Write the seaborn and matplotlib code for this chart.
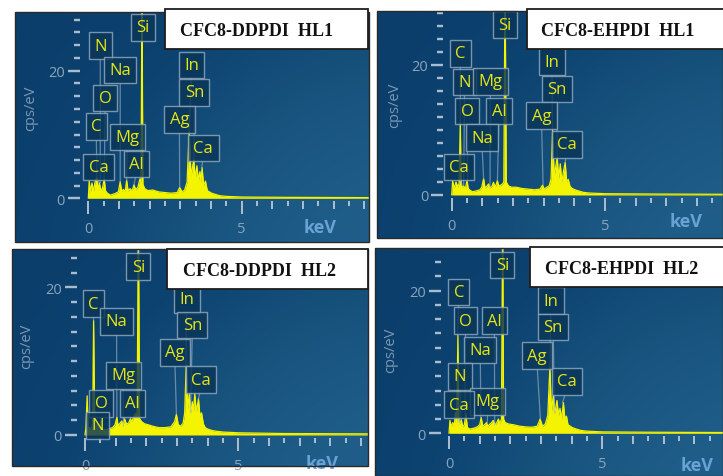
import numpy as np
import pandas as pd
import matplotlib
matplotlib.use("Agg")
import matplotlib.pyplot as plt
from matplotlib.patches import Rectangle
from matplotlib.colors import LinearSegmentedColormap
import seaborn as sns

# ---------------- data ----------------
TITLES = ["CFC8-DDPDI  HL1", "CFC8-EHPDI  HL1", "CFC8-DDPDI  HL2", "CFC8-EHPDI  HL2"]

# (energy keV, counts cps/eV) polylines of each EDS spectrum
SPEC_DD_HL1 = [
    (0.00, 0.0), (0.03, 2.7), (0.07, 1.0), (0.12, 2.4), (0.17, 1.1), (0.22, 2.6), (0.28, 3.2),
    (0.32, 1.2), (0.36, 2.4), (0.40, 1.5), (0.45, 1.3), (0.52, 3.0), (0.56, 1.2), (0.62, 0.8),
    (0.72, 0.5), (0.85, 0.7), (0.98, 1.0), (1.04, 2.6), (1.09, 1.0), (1.14, 1.4), (1.20, 1.0),
    (1.25, 2.8), (1.30, 1.1), (1.36, 1.5), (1.43, 1.2), (1.49, 2.1), (1.55, 1.3), (1.62, 1.8),
    (1.68, 3.0), (1.72, 2.5), (1.75, 34.0), (1.78, 2.2), (1.84, 1.5), (1.95, 1.2), (2.10, 1.3),
    (2.30, 1.0), (2.50, 0.9), (2.70, 0.8), (2.90, 0.9), (2.98, 1.7), (3.06, 1.0), (3.14, 1.3),
    (3.22, 2.5), (3.29, 10.4), (3.35, 3.5), (3.44, 6.1), (3.49, 3.0), (3.54, 5.1), (3.59, 2.8),
    (3.64, 4.2), (3.67, 2.5), (3.71, 4.8), (3.76, 2.0), (3.82, 2.7), (3.88, 1.2), (3.95, 1.0),
    (4.02, 0.8), (4.15, 0.6), (4.30, 0.4), (4.50, 0.3), (5.00, 0.2), (6.50, 0.15), (9.50, 0.1),
]
SPEC_EH_HL1 = [
    (0.00, 0.0), (0.03, 2.2), (0.08, 1.0), (0.14, 2.0), (0.20, 1.2), (0.24, 1.8), (0.28, 11.2),
    (0.31, 1.5), (0.35, 1.2), (0.39, 1.4), (0.44, 0.9), (0.50, 2.2), (0.54, 1.0), (0.60, 0.7),
    (0.68, 0.5), (0.78, 0.6), (0.92, 0.8), (0.98, 1.2), (1.04, 2.5), (1.09, 1.0), (1.14, 1.3),
    (1.20, 1.7), (1.25, 1.1), (1.31, 1.3), (1.36, 1.95), (1.42, 1.2), (1.49, 2.2), (1.53, 1.4),
    (1.58, 1.5), (1.64, 1.6), (1.70, 2.0), (1.74, 34.0), (1.78, 2.0), (1.85, 1.4), (1.95, 1.2),
    (2.10, 1.2), (2.30, 1.0), (2.50, 0.9), (2.70, 0.8), (2.88, 0.9), (2.96, 1.5), (3.02, 0.9),
    (3.10, 1.2), (3.18, 1.4), (3.24, 2.5), (3.29, 10.0), (3.34, 3.0), (3.38, 4.0), (3.44, 5.8),
    (3.49, 2.5), (3.54, 4.8), (3.59, 2.0), (3.64, 3.5), (3.70, 5.0), (3.75, 2.0), (3.80, 2.4),
    (3.86, 1.3), (3.93, 1.0), (4.02, 0.8), (4.15, 0.6), (4.30, 0.4), (4.50, 0.3), (5.00, 0.2),
    (6.50, 0.15), (9.50, 0.1),
]
SPEC_DD_HL2 = [
    (0.00, 0.0), (0.03, 1.0), (0.07, 5.3), (0.10, 1.2), (0.16, 0.8), (0.22, 1.0), (0.25, 1.5),
    (0.28, 15.5), (0.32, 1.2), (0.36, 1.0), (0.40, 1.5), (0.44, 0.8), (0.48, 1.0), (0.52, 1.9),
    (0.57, 0.8), (0.65, 0.7), (0.75, 0.8), (0.90, 1.0), (0.98, 1.4), (1.04, 2.4), (1.08, 1.2),
    (1.14, 1.6), (1.20, 1.9), (1.24, 1.2), (1.29, 2.2), (1.35, 1.5), (1.42, 1.6), (1.48, 2.2),
    (1.53, 1.8), (1.59, 2.5), (1.65, 2.9), (1.70, 2.9), (1.74, 30.0), (1.78, 2.2), (1.85, 1.8),
    (1.95, 1.5), (2.05, 1.4), (2.20, 1.2), (2.40, 1.0), (2.60, 1.0), (2.80, 1.1), (2.92, 1.8),
    (2.98, 2.8), (3.04, 1.4), (3.12, 1.2), (3.20, 1.6), (3.25, 3.0), (3.30, 9.4), (3.35, 3.5),
    (3.40, 5.6), (3.45, 3.0), (3.50, 4.5), (3.54, 3.2), (3.58, 5.6), (3.63, 3.0), (3.70, 4.9),
    (3.75, 2.5), (3.80, 3.0), (3.86, 1.5), (3.92, 1.0), (4.00, 0.8), (4.15, 0.6), (4.30, 0.5),
    (4.50, 0.4), (5.00, 0.3), (6.50, 0.2), (9.50, 0.15),
]
SPEC_EH_HL2 = [
    (0.00, 0.0), (0.03, 1.8), (0.07, 0.9), (0.12, 1.5), (0.17, 1.0), (0.21, 2.9), (0.25, 1.5),
    (0.29, 13.7), (0.32, 1.3), (0.36, 1.5), (0.40, 1.9), (0.45, 0.9), (0.50, 1.2), (0.55, 2.7),
    (0.60, 0.8), (0.68, 0.6), (0.80, 0.7), (0.92, 0.9), (1.00, 1.2), (1.05, 2.2), (1.10, 1.0),
    (1.16, 1.2), (1.22, 1.5), (1.27, 1.0), (1.33, 1.3), (1.39, 1.5), (1.44, 1.8), (1.50, 1.2),
    (1.56, 1.5), (1.61, 2.0), (1.66, 1.4), (1.71, 2.0), (1.75, 30.0), (1.78, 2.0), (1.83, 1.5),
    (1.95, 1.3), (2.10, 1.2), (2.30, 1.0), (2.50, 0.9), (2.70, 0.85), (2.88, 1.0), (2.97, 2.0),
    (3.05, 1.0), (3.14, 1.3), (3.22, 2.5), (3.29, 9.3), (3.34, 3.0), (3.40, 5.3), (3.45, 2.8),
    (3.52, 4.6), (3.57, 2.5), (3.62, 3.5), (3.67, 2.0), (3.73, 4.3), (3.78, 2.0), (3.83, 2.4),
    (3.88, 1.2), (3.95, 1.0), (4.02, 0.8), (4.15, 0.6), (4.30, 0.4), (4.50, 0.3), (5.00, 0.2),
    (6.50, 0.15), (9.50, 0.1),
]
SPECTRA = [SPEC_DD_HL1, SPEC_EH_HL1, SPEC_DD_HL2, SPEC_EH_HL2]

# characteristic line energies (keV) the element callouts point to
ELEMENT_KEV = {"C": 0.28, "N": 0.39, "O": 0.52, "Na": 1.04, "Mg": 1.25, "Al": 1.49,
               "Si": 1.74, "Ag": 2.98, "In": 3.29, "Sn": 3.44, "Ca": 3.70, "CaL": 0.34}

LABELS_DD_HL1 = ["Si", "N", "Na", "O", "C", "Mg", "CaL", "Al", "In", "Sn", "Ag", "Ca"]
LABELS_EH_HL1 = ["Si", "C", "N", "Mg", "O", "Al", "Na", "CaL", "In", "Sn", "Ag", "Ca"]
LABELS_DD_HL2 = ["Si", "C", "Na", "In", "Sn", "Ag", "Mg", "Ca", "O", "Al", "N"]
LABELS_EH_HL2 = ["Si", "C", "O", "Al", "Na", "N", "Mg", "CaL", "In", "Sn", "Ag", "Ca"]
LABELS = [LABELS_DD_HL1, LABELS_EH_HL1, LABELS_DD_HL2, LABELS_EH_HL2]

X_MAJOR = [0, 5]
Y_MAJOR = [0, 20]

# ---------------- layout / style ----------------
W, H = 723, 477
SX = 30.67  # px per keV
PANELS = [
    dict(rect=(15, 13, 369, 243), x0=88.3, y0=199.3, sy=6.38,
         tbox=(165, 10, 368, 50), ttext=(180, 31), ylab=(-1.88, 14.3), kev=(7.55, -4.5),
         lpos=[(1.78, 26.8), (0.39, 23.9), (1.04, 20.1), (0.55, 15.7), (0.26, 11.3), (1.27, 9.6),
               (0.33, 4.9), (1.57, 5.4), (3.36, 20.9), (3.46, 16.6), (2.97, 12.4), (3.75, 7.9)]),
    dict(rect=(377, 12, 723, 239), x0=451.7, y0=196.0, sy=6.5,
         tbox=(527, 10, 730, 50), ttext=(541, 32), ylab=(-1.85, 14.0), kev=(7.64, -3.95),
         lpos=[(1.74, 26.2), (0.28, 21.8), (0.42, 17.4), (1.26, 17.5), (0.50, 12.9), (1.54, 12.9),
               (0.99, 8.8), (0.24, 4.3), (3.27, 20.5), (3.42, 16.3), (2.93, 12.2), (3.75, 7.8)]),
    dict(rect=(12, 250, 368, 467), x0=85.0, y0=436.0, sy=7.38,
         tbox=(167, 250, 368, 290), ttext=(183, 271), ylab=(-1.9, 12.1), kev=(7.72, -3.8),
         lpos=[(1.74, 22.8), (0.27, 17.8), (1.03, 15.4), (3.32, 18.4), (3.50, 14.9), (2.93, 11.2),
               (1.25, 8.1), (3.78, 7.5), (0.52, 4.3), (1.55, 4.3), (0.41, 1.3)]),
    dict(rect=(375, 249, 723, 477), x0=449.0, y0=434.3, sy=7.13,
         tbox=(530, 248, 730, 288), ttext=(545, 270), ylab=(-1.9, 11.8), kev=(8.08, -4.5),
         lpos=[(1.74, 23.6), (0.32, 19.8), (0.54, 15.8), (1.48, 15.8), (1.02, 11.7), (0.36, 8.0),
               (1.26, 4.5), (0.33, 4.0), (3.32, 18.6), (3.40, 14.9), (2.87, 10.9), (3.84, 7.3)]),
]

YELLOW = "#f4f400"
LABEL_YELLOW = "#e6e614"
TICK_C = "#a9bccd"
TICKLBL_C = "#8aa4bc"
KEV_C = "#6aa2d6"
BG_CMAP = LinearSegmentedColormap.from_list("bg", ["#0b3e6b", "#0d4371", "#17537d", "#1f5d89"])

sns.set_theme(style="white")
plt.rcParams["font.family"] = ["Open Sans", "DejaVu Sans"]

fig = plt.figure(figsize=(W / 100, H / 100), dpi=100)
fig.patch.set_facecolor("white")

# background gradient grid (axes fraction)
gu, gv = np.meshgrid(np.linspace(0, 1, 240), np.linspace(0, 1, 160))
gdist = np.sqrt(((gu - 1.15) * 1.5) ** 2 + (gv + 0.3) ** 2)
gshade = np.clip((2.0 - gdist) / 1.45, 0, 1)

PX = 1 / 100 * 72  # points per pixel

for i, p in enumerate(PANELS):
    L, T, R, B = p["rect"]
    ax = fig.add_axes([L / W, 1 - B / H, (R - L) / W, (B - T) / H])
    xlim = ((L - p["x0"]) / SX, (R - p["x0"]) / SX)
    ylim = ((p["y0"] - B) / p["sy"], (p["y0"] - T) / p["sy"])

    ax.imshow(gshade, cmap=BG_CMAP, extent=(*xlim, *ylim), origin="lower",
              aspect="auto", interpolation="bilinear", zorder=0)

    df = pd.DataFrame(SPECTRA[i], columns=["keV", "cps"])
    ax.fill_between(df["keV"], df["cps"], 0, color=YELLOW, lw=0, zorder=2)
    sns.lineplot(data=df, x="keV", y="cps", ax=ax, color=YELLOW, lw=0.9,
                 estimator=None, sort=False, zorder=3)
    ax.set_xlabel("")
    ax.set_ylabel("")

    # axes lines placed like the instrument software
    for s in ["top", "right"]:
        ax.spines[s].set_visible(False)
    spine_y = -2.7 / p["sy"]
    ax.spines["left"].set_position(("data", -8.3 / SX))
    ax.spines["bottom"].set_position(("data", spine_y))
    ax.spines["left"].set_color("none")
    ax.spines["bottom"].set_color("none")

    ax.set_xticks(X_MAJOR)
    ax.set_xticks([v for v in range(1, 10) if v not in X_MAJOR and v < xlim[1]], minor=True)
    ax.set_yticks(Y_MAJOR)
    ax.set_yticks([v for v in range(2, 30, 2) if v not in Y_MAJOR and v < ylim[1]], minor=True)
    ax.set_xlim(*xlim)
    ax.set_ylim(*ylim)
    ax.tick_params(bottom=True, left=True, top=False, right=False, which="both")
    ax.tick_params(axis="x", which="major", direction="out", length=13 * PX, width=2 * PX,
                   color=TICK_C, labelcolor=TICKLBL_C, labelsize=10.5, pad=7 * PX)
    ax.tick_params(axis="x", which="minor", direction="out", length=8 * PX, width=2 * PX,
                   color=TICK_C)
    ax.tick_params(axis="y", which="major", direction="out", length=12 * PX, width=2.4 * PX,
                   color=TICK_C, labelcolor=TICKLBL_C, labelsize=10.5, pad=3 * PX)
    ax.tick_params(axis="y", which="minor", direction="out", length=6 * PX, width=2.4 * PX,
                   color=TICK_C)

    # half-keV ticks
    frac = (spine_y - ylim[0]) / (ylim[1] - ylim[0])
    sec = ax.secondary_xaxis(frac)
    sec.set_xticks([v + 0.5 for v in range(0, 9) if v + 0.5 < xlim[1]])
    sec.tick_params(axis="x", which="major", bottom=True, top=False, direction="out",
                    length=5 * PX, width=2 * PX, color=TICK_C,
                    labelbottom=False, labeltop=False)
    for s in sec.spines.values():
        s.set_visible(False)
    ax.set_xlim(*xlim)

    ax.text(*p["ylab"], "cps/eV", rotation=90, ha="center", va="center",
            color="#7d99b3", fontsize=10.5, zorder=6)
    ax.text(*p["kev"], "keV", ha="center", va="center", color=KEV_C,
            fontsize=13, fontweight="bold", zorder=6)

    # element callouts
    E = df["keV"].to_numpy()
    Y = df["cps"].to_numpy()
    for name, (bx, by) in zip(LABELS[i], p["lpos"]):
        e = ELEMENT_KEV[name]
        near = np.abs(E - e) <= 0.035
        h = Y[near].max() if near.any() else np.interp(e, E, Y)
        h = min(h, ylim[1])
        ax.annotate("Ca" if name == "CaL" else name, xy=(e, h), xytext=(bx, by),
                    textcoords="data", ha="center", va="center", color=LABEL_YELLOW,
                    fontsize=12, zorder=5, annotation_clip=False,
                    bbox=dict(boxstyle="square,pad=0.32", fc="#0a3658", ec="#91a9bf",
                              lw=1.0, alpha=0.82),
                    arrowprops=dict(arrowstyle="-", color="#a3b6c8", lw=0.9, alpha=0.6,
                                    shrinkA=0, shrinkB=0, relpos=(0.5, 0.0)))

    ax.add_patch(Rectangle((0, 0), 1, 1, transform=ax.transAxes, fill=False,
                           ec="#2a2a2a", lw=1.0, clip_on=False, zorder=10))

    # white title box
    tl, tt, tr, tb = p["tbox"]
    fig.add_artist(Rectangle((tl / W, 1 - tb / H), (tr - tl) / W, (tb - tt) / H,
                             transform=fig.transFigure, fc="white", ec="#1e1e1e", lw=1.3,
                             zorder=20))
    fig.text(p["ttext"][0] / W, 1 - p["ttext"][1] / H, TITLES[i], ha="left", va="center",
             family=["Liberation Serif", "DejaVu Serif"], fontweight="bold", fontsize=13,
             color="#111111", zorder=21)

fig.savefig("out.png", dpi=100, facecolor="white")
